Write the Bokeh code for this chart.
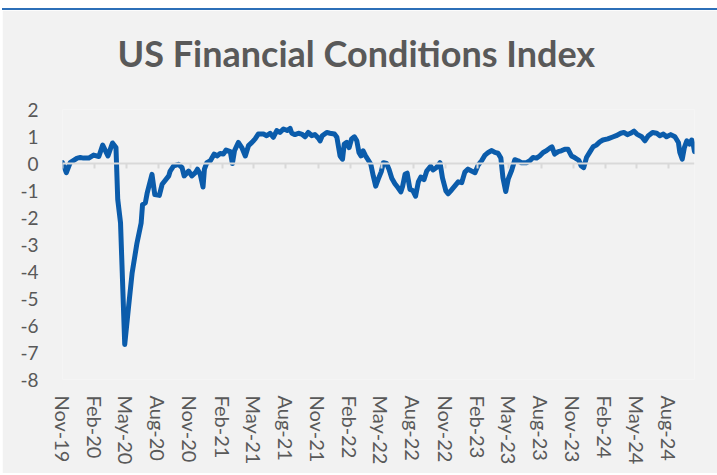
import math
from datetime import datetime
import pandas as pd
from bokeh.plotting import figure
from bokeh.models import (Range1d, FixedTicker, DatetimeAxis, ColumnDataSource, Title)
from bokeh.embed import file_html
from bokeh.resources import INLINE

title_text = "US Financial Conditions Index"

dates = [
    "2019-11-01", "2019-11-12", "2019-11-23", "2019-12-13", "2019-12-22", "2019-12-31",
    "2020-01-15", "2020-01-29", "2020-02-13", "2020-02-24", "2020-03-10", "2020-03-23",
    "2020-04-02", "2020-04-07", "2020-04-15", "2020-04-27", "2020-05-08", "2020-05-18",
    "2020-06-01", "2020-06-13", "2020-06-17", "2020-06-25", "2020-06-30", "2020-07-14",
    "2020-07-22", "2020-08-04", "2020-08-12", "2020-08-31", "2020-09-04", "2020-09-14",
    "2020-09-28", "2020-10-08", "2020-10-14", "2020-10-27", "2020-11-05", "2020-11-15",
    "2020-11-21", "2020-11-29", "2020-12-07", "2020-12-11", "2020-12-18", "2020-12-28",
    "2021-01-08", "2021-01-16", "2021-01-25", "2021-02-03", "2021-02-11", "2021-02-23",
    "2021-03-01", "2021-03-07", "2021-03-18", "2021-03-28", "2021-04-07", "2021-04-16",
    "2021-04-26", "2021-05-05", "2021-05-14", "2021-05-29", "2021-06-07", "2021-06-17",
    "2021-06-26", "2021-07-06", "2021-07-15", "2021-07-25", "2021-08-05", "2021-08-13",
    "2021-08-18", "2021-08-27", "2021-09-06", "2021-09-15", "2021-09-25", "2021-10-04",
    "2021-10-14", "2021-10-23", "2021-11-02", "2021-11-07", "2021-11-13", "2021-11-26",
    "2021-12-05", "2021-12-18", "2021-12-25", "2021-12-30", "2022-01-03", "2022-01-10",
    "2022-01-15", "2022-01-22", "2022-01-29", "2022-02-05", "2022-02-13", "2022-02-20",
    "2022-02-26", "2022-03-04", "2022-03-10", "2022-03-17", "2022-03-25", "2022-04-01",
    "2022-04-08", "2022-04-15", "2022-04-22", "2022-05-01", "2022-05-07", "2022-05-16",
    "2022-05-23", "2022-05-31", "2022-06-09", "2022-06-18", "2022-06-26", "2022-07-01",
    "2022-07-08", "2022-07-14", "2022-07-22", "2022-07-30", "2022-08-07", "2022-08-15",
    "2022-08-22", "2022-08-31", "2022-09-08", "2022-09-19", "2022-09-26", "2022-10-06",
    "2022-10-16", "2022-10-23", "2022-11-02", "2022-11-08", "2022-11-18", "2022-11-27",
    "2022-12-07", "2022-12-17", "2022-12-26", "2023-01-04", "2023-01-14", "2023-01-24",
    "2023-02-02", "2023-02-12", "2023-02-21", "2023-03-03", "2023-03-13", "2023-03-22",
    "2023-03-31", "2023-04-08", "2023-04-14", "2023-04-22", "2023-04-29", "2023-05-09",
    "2023-05-18", "2023-05-27", "2023-06-06", "2023-06-20", "2023-06-30", "2023-07-09",
    "2023-07-19", "2023-07-28", "2023-08-07", "2023-08-16", "2023-08-26", "2023-09-01",
    "2023-09-09", "2023-09-19", "2023-09-28", "2023-10-08", "2023-10-17", "2023-10-27",
    "2023-11-05", "2023-11-17", "2023-11-24", "2023-12-01", "2023-12-09", "2023-12-18",
    "2023-12-28", "2024-01-06", "2024-01-16", "2024-01-25", "2024-02-08", "2024-02-22",
    "2024-03-03", "2024-03-16", "2024-03-25", "2024-04-04", "2024-04-13", "2024-04-23",
    "2024-05-01", "2024-05-15", "2024-05-24", "2024-06-03", "2024-06-15", "2024-06-27",
    "2024-07-06", "2024-07-16", "2024-07-25", "2024-08-06", "2024-08-18", "2024-08-28",
    "2024-09-01", "2024-09-08", "2024-09-14", "2024-09-21", "2024-09-29", "2024-10-05",
    "2024-10-10", "2024-10-13",
]

fci_values = [
    0.03, -0.34, 0.03, 0.20, 0.22, 0.20,
    0.20, 0.31, 0.26, 0.68, 0.28, 0.76,
    0.59, -1.33, -2.20, -6.70, -5.31, -4.07,
    -2.95, -2.20, -1.52, -1.46, -1.11, -0.40,
    -1.15, -1.18, -0.77, -0.46, -0.28, -0.09,
    -0.03, -0.15, -0.46, -0.28, -0.46, -0.34,
    -0.21, -0.40, -0.87, -0.21, 0.03, 0.10,
    0.35, 0.28, 0.37, 0.35, 0.50, 0.44,
    0.00, 0.47, 0.78, 0.59, 0.28, 0.66,
    0.78, 0.91, 1.09, 1.09, 1.03, 1.12,
    0.97, 1.22, 1.15, 1.28, 1.22, 1.30,
    1.12, 1.07, 1.12, 1.09, 0.99, 1.15,
    1.03, 1.07, 0.94, 0.84, 1.03, 1.15,
    1.12, 1.09, 0.97, 0.59, 0.28, 0.16,
    0.72, 0.78, 0.59, 0.91, 0.99, 0.84,
    0.41, 0.28, 0.47, 0.28, 0.12, -0.03,
    -0.46, -0.84, -0.59, -0.30, 0.03, 0.00,
    -0.21, -0.55, -0.75, -0.90, -1.05, -0.84,
    -0.40, -0.36, -0.96, -1.00, -1.21, -0.68,
    -0.50, -0.60, -0.28, -0.10, -0.24, -0.15,
    0.03, -0.53, -1.02, -1.12, -0.98, -0.84,
    -0.68, -0.71, -0.32, -0.21, -0.28, -0.34,
    -0.06, 0.10, 0.30, 0.41, 0.48, 0.41,
    0.38, 0.20, -0.53, -1.04, -0.58, -0.25,
    0.14, 0.10, 0.03, 0.03, 0.10, 0.22,
    0.20, 0.28, 0.41, 0.47, 0.57, 0.62,
    0.35, 0.44, 0.47, 0.53, 0.53, 0.28,
    0.22, 0.12, -0.09, -0.15, 0.22, 0.41,
    0.62, 0.68, 0.80, 0.87, 0.91, 0.98,
    1.03, 1.12, 1.15, 1.07, 1.12, 1.20,
    1.09, 0.99, 0.84, 1.03, 1.15, 1.12,
    1.03, 1.09, 0.99, 1.07, 0.99, 0.78,
    0.41, 0.16, 0.59, 0.84, 0.72, 0.87,
    0.66, 0.44,
]

x_tick_labels = [
    "Nov-19", "Feb-20", "May-20", "Aug-20", "Nov-20", "Feb-21", "May-21",
    "Aug-21", "Nov-21", "Feb-22", "May-22", "Aug-22", "Nov-22", "Feb-23",
    "May-23", "Aug-23", "Nov-23", "Feb-24", "May-24", "Aug-24",
]

y_ticks = [2, 1, 0, -1, -2, -3, -4, -5, -6, -7, -8]
y_tick_labels = ["2", "1", "0", "-1", "-2", "-3", "-4", "-5", "-6", "-7", "-8"]

BG = "#F2F2F2"
TEXT = "#595959"
LINE = "#0B5CAB"
AXIS = "#D9D9D9"
FONT = "Lato"

x = pd.to_datetime(dates)
src = ColumnDataSource(dict(date=x, value=fci_values))

tick_ms = [pd.Timestamp(datetime.strptime(l, "%b-%y")).value / 1e6 for l in x_tick_labels]

p = figure(width=715, height=465, x_axis_type="datetime",
           output_backend="svg", toolbar_location=None,
           x_range=Range1d(x.min(), x.max()),
           y_range=Range1d(min(y_ticks), max(y_ticks)),
           min_border_left=60, min_border_right=23,
           min_border_top=99, min_border_bottom=96)
p.background_fill_color = BG
p.border_fill_color = BG
p.outline_line_color = None
p.grid.visible = False
p.styles = {"border-top": "2px solid #2C6FB8", "box-sizing": "border-box",
            "margin-top": "8px", "margin-left": "2px"}

p.title.text = title_text
p.title.align = "left"
p.title.offset = 55
p.title.standoff = 10
p.title.text_font = FONT
p.title.text_font_style = "bold"
p.title.text_font_size = "36px"
p.title.text_color = TEXT

# empty spacer panel between the title and the plot area
p.add_layout(Title(text=" ", text_font_size="1px", standoff=27), "above")

# bottom axis: labels only
xa = p.xaxis[0]
xa.ticker = FixedTicker(ticks=tick_ms)
xa.major_label_overrides = {t: l for t, l in zip(tick_ms, x_tick_labels)}
xa.axis_line_color = None
xa.major_tick_line_color = None
xa.major_tick_out = 0
xa.major_tick_in = 0
xa.minor_tick_line_color = None
xa.major_label_orientation = "vertical"
xa.major_label_standoff = 16
xa.major_label_text_font = FONT
xa.major_label_text_font_size = "20px"
xa.major_label_text_color = TEXT

# zero line with tick marks
za = DatetimeAxis(fixed_location=0, ticker=FixedTicker(ticks=tick_ms),
                  major_label_overrides={t: "" for t in tick_ms},
                  major_label_text_font_size="0px", major_label_standoff=0,
                  axis_line_color=AXIS, axis_line_width=2,
                  major_tick_line_color=AXIS, major_tick_line_width=2,
                  major_tick_out=5, major_tick_in=0,
                  minor_tick_line_color=None)
p.add_layout(za, "below")

ya = p.yaxis[0]
ya.ticker = FixedTicker(ticks=y_ticks)
ya.major_label_overrides = {t: l for t, l in zip(y_ticks, y_tick_labels)}
ya.axis_line_color = None
ya.major_tick_line_color = None
ya.minor_tick_line_color = None
ya.major_tick_out = 0
ya.major_tick_in = 0
ya.major_label_standoff = 24
ya.major_label_text_font = FONT
ya.major_label_text_font_size = "19px"
ya.major_label_text_color = TEXT

p.line("date", "value", source=src, line_color=LINE, line_width=5,
       line_join="round", line_cap="round")

open("out.html", "w").write(file_html(p, INLINE))
